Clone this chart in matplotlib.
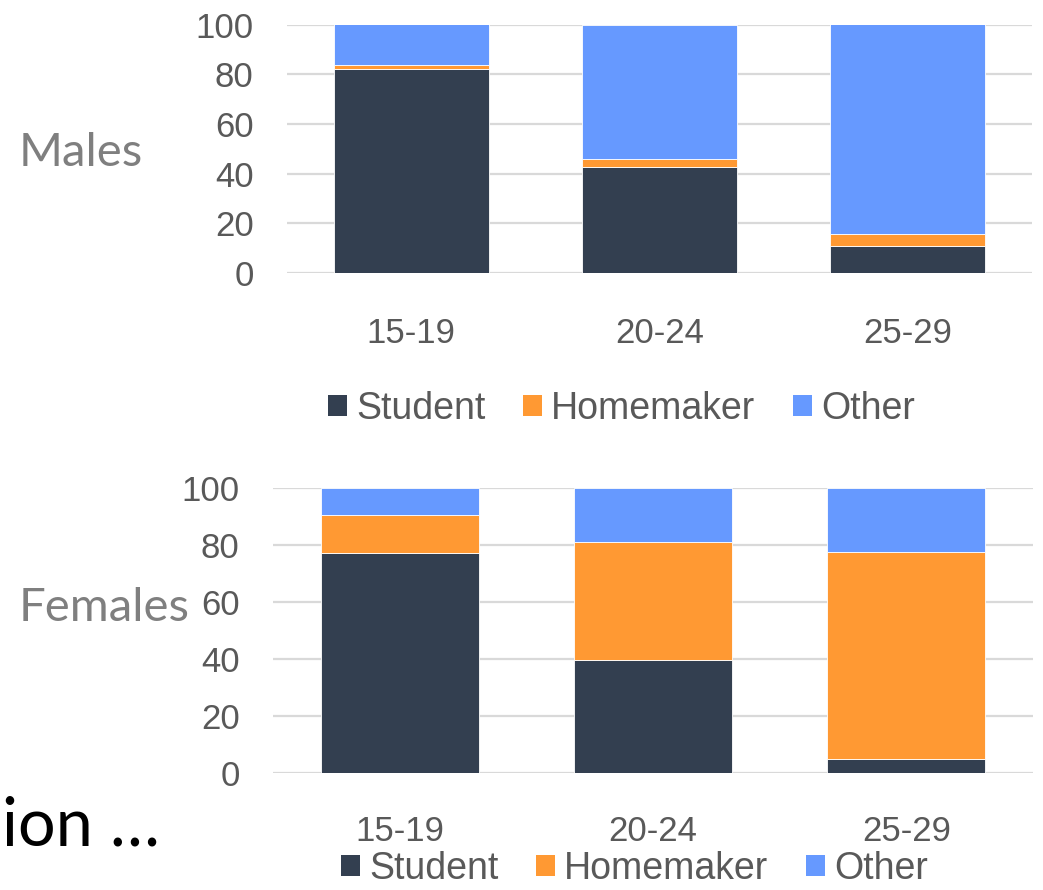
import matplotlib
matplotlib.use("Agg")
import matplotlib.pyplot as plt
from matplotlib.patches import Patch
import numpy as np

# data (percent)
ages = ["15-19", "20-24", "25-29"]
series = ["Student", "Homemaker", "Other"]
colors = ["#333F50", "#FF9933", "#6699FF"]

male_student = [82.2, 42.6, 10.8]
male_homemaker = [1.5, 3.2, 5.0]
male_other = [16.3, 54.2, 84.2]

female_student = [77.3, 39.5, 5.0]
female_homemaker = [13.1, 41.5, 72.4]
female_other = [9.6, 19.0, 22.6]

W, H = 1043, 890
fig = plt.figure(figsize=(W / 100, H / 100), dpi=100)
fig.patch.set_facecolor("white")

tick_color = "#595959"
grid_color = "#D9D9D9"
tick_font = "Liberation Sans"


def draw(ax, data, xpad):
    x = np.arange(len(ages))
    bottom = np.zeros(len(ages))
    for vals, c in zip(data, colors):
        ax.bar(x, vals, width=0.625, bottom=bottom, color=c,
               edgecolor="white", linewidth=0.6, zorder=3)
        bottom += np.array(vals)
    ax.set_xlim(-0.5, 2.5)
    ax.set_ylim(0, 100)
    ax.set_yticks(range(0, 101, 20))
    ax.set_xticks(x)
    ax.set_xticklabels(ages)
    ax.grid(axis="y", color=grid_color, linewidth=1.6, zorder=0)
    for s in ax.spines.values():
        s.set_visible(False)
    ax.tick_params(axis="y", length=0, pad=24, labelsize=25, labelcolor=tick_color)
    ax.tick_params(axis="x", length=0, pad=xpad, labelsize=25, labelcolor=tick_color)
    for lab in ax.get_xticklabels() + ax.get_yticklabels():
        lab.set_fontfamily(tick_font)


# top: males
ax1 = fig.add_axes([287 / W, 1 - 273 / H, 745 / W, 248.5 / H])
draw(ax1, [male_student, male_homemaker, male_other], xpad=32)

# bottom: females
ax2 = fig.add_axes([273 / W, 1 - 773 / H, 760 / W, 285 / H])
draw(ax2, [female_student, female_homemaker, female_other], xpad=30)

side = dict(fontsize=34, color="#7F7F7F", family="Lato", va="center", ha="left")
fig.text(19 / W, 1 - 153 / H, "Males", **side)
fig.text(19 / W, 1 - 608 / H, "Females", **side)

handles = [Patch(facecolor=c, edgecolor="none", label=s) for s, c in zip(series, colors)]
leg_kw = dict(ncol=3, frameon=False, loc="center left", borderpad=0,
              borderaxespad=0, handlelength=0.5, handleheight=0.5,
              handletextpad=0.25, columnspacing=1.0,
              prop={"family": tick_font, "size": 27})
for lx, ly in [(328, 409), (341, 869)]:
    leg = fig.legend(handles=handles, bbox_to_anchor=(lx / W, 1 - ly / H), **leg_kw)
    for t in leg.get_texts():
        t.set_color(tick_color)

# slide text cut off at the left edge
fig.text(0.002, 1 - 845 / H, "ion …", fontsize=48, family="Lato",
         color="black", va="baseline", ha="left")

fig.savefig("out.png", dpi=100)
